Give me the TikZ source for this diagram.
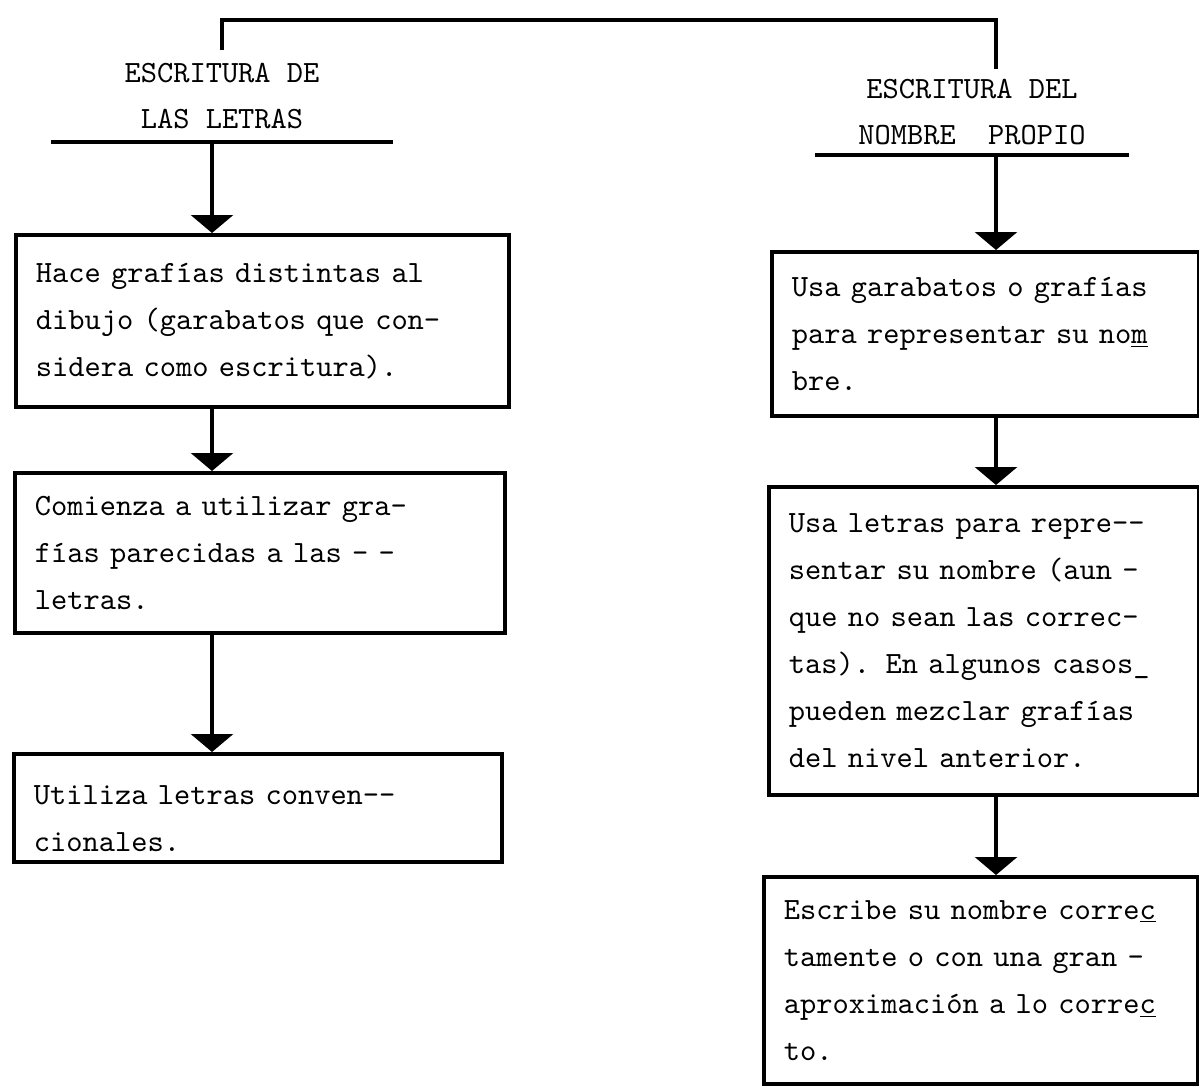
\documentclass[tikz,border=0pt]{standalone}
\usepackage{fontspec}
\newfontfamily\maquina{lmmono10-regular.otf}
\usetikzlibrary{arrows.meta}

\begin{document}
\begin{tikzpicture}[
                x=0.02cm, y=-0.02cm,
                line width=2pt,
                caja/.style={draw,line width=2.2pt,anchor=north west,align=left,inner xsep=0.4cm,inner ysep=0pt,
                             font=\maquina\fontsize{17.6}{26.8}\selectfont},
                titulo/.style={align=center,inner sep=0pt,font=\maquina\fontsize{17.6}{26.2}\selectfont},
                flecha/.style={-{Triangle[width=0.84cm,length=0.36cm]},line width=1.8pt}]

                    \useasboundingbox (0,0) rectangle (1199,1085);

                    % titulos
                    \node[titulo,minimum width=6.78cm,minimum height=1.76cm] (TituloL) at (222,96) {ESCRITURA DE\\LAS LETRAS};
                    \node[titulo,minimum width=6.2cm,minimum height=1.64cm] (TituloR) at (972,112) {ESCRITURA DEL\\NOMBRE\ \ PROPIO};

                    \coordinate (Cima) at (600,20);
                    \coordinate (EjeL) at (212,0);
                    \coordinate (EjeR) at (996,0);

                    \draw (TituloL.north) |- (Cima -| EjeR) -- (TituloR.north -| EjeR);
                    \draw[line width=2.4pt] (TituloL.south west) -- (TituloL.south east);
                    \draw[line width=2.4pt] (TituloR.south west) -- (TituloR.south east);


                    % 1
                    \node[caja,minimum height=3.44cm,text width=9.06cm] (CajaL1) at (14,233) {Hace grafías distintas al\\dibujo (garabatos que con-\\sidera como escritura).};
                    \node[caja,minimum height=3.2cm,text width=9.0cm] (CajaL2) at (13,471) {Comienza a utilizar gra-\\fías parecidas a las - -\\letras.};
                    \node[caja,minimum height=2.16cm,text width=8.96cm,text height=0.8cm] (CajaL3) at (12,752) {Utiliza letras conven-\kern0pt-\\cionales.};

                    \draw[flecha] (TituloL.south -| EjeL) -- (CajaL1.north -| EjeL);
                    \draw[flecha] (CajaL1.south -| EjeL) -- (CajaL2.north -| EjeL);
                    \draw[flecha] (CajaL2.south -| EjeL) -- (CajaL3.north -| EjeL);


                    % 2
                    \node[caja,minimum height=3.28cm,text width=7.74cm] (CajaR1) at (770,250) {Usa garabatos o grafías\\para representar su no\underline{m}\\bre.};
                    \node[caja,minimum height=6.16cm,text width=7.8cm] (CajaR2) at (767,485) {Usa letras para repre-\kern0pt-\\sentar su nombre (aun -\\que no sean las correc-\\tas). En algunos casos\_\\pueden mezclar grafías\\del nivel anterior.};
                    \node[caja,minimum height=4.14cm,text width=7.88cm] (CajaR3) at (762,875) {Escribe su nombre corre\underline{c}\\tamente o con una gran -\\aproximación a lo corre\underline{c}\\to.};

                    \draw[flecha] (TituloR.south -| EjeR) -- (CajaR1.north -| EjeR);
                    \draw[flecha] (CajaR1.south -| EjeR) -- (CajaR2.north -| EjeR);
                    \draw[flecha] (CajaR2.south -| EjeR) -- (CajaR3.north -| EjeR);

                    \end{tikzpicture}
\end{document}
